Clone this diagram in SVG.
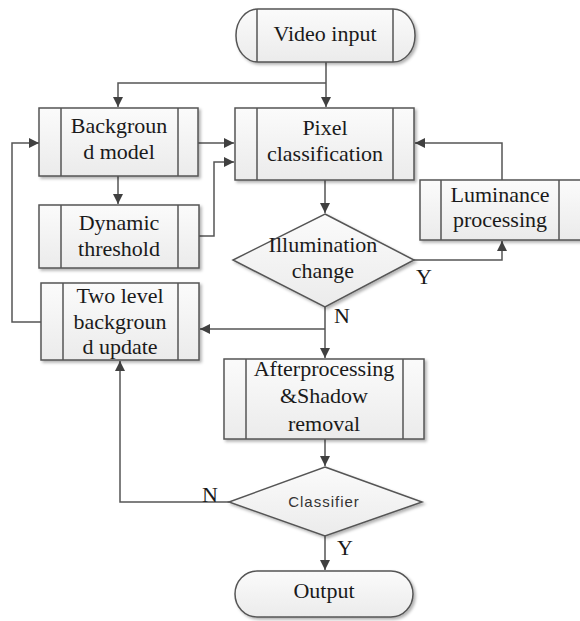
<svg xmlns="http://www.w3.org/2000/svg" width="580" height="621" viewBox="0 0 580 621">
  <defs>
    <linearGradient id="boxFill" x1="0" y1="0" x2="0" y2="1">
      <stop offset="0" stop-color="#fbfbfb"/>
      <stop offset="1" stop-color="#ebebeb"/>
    </linearGradient>
    <filter id="shadow" x="-10%" y="-10%" width="125%" height="130%">
      <feDropShadow dx="2" dy="2" stdDeviation="1.5" flood-color="#000" flood-opacity="0.3"/>
    </filter>
    <marker id="arrow" markerUnits="userSpaceOnUse" markerWidth="11" markerHeight="11" refX="10" refY="5" orient="auto">
      <path d="M0,0 L10,5 L0,10 z" fill="#404040"/>
    </marker>
  </defs>
  <style>
    .shape { fill: url(#boxFill); stroke: #555; stroke-width: 1.5; filter: url(#shadow); }
    .inner { stroke: #555; stroke-width: 1.5; fill: none; }
    .label { font-family: "Liberation Serif", "Times New Roman", serif; font-size: 22px; fill: #1a1a1a; text-anchor: middle; }
    .small { font-family: "Liberation Sans", Arial, sans-serif; font-size: 15px; letter-spacing: 1px; fill: #333; text-anchor: middle; }
    .yn { font-family: "Liberation Serif", "Times New Roman", serif; font-size: 22px; fill: #1a1a1a; }
    .conn { fill: none; stroke: #555; stroke-width: 1.5; }
  </style>

  <!-- connectors -->
  <g id="connectors">
    <path class="conn" d="M326,62 V107" marker-end="url(#arrow)"/>
    <path class="conn" d="M326,83 H118 V107" marker-end="url(#arrow)"/>
    <path class="conn" d="M198,143 H234" marker-end="url(#arrow)"/>
    <path class="conn" d="M118,176 V204" marker-end="url(#arrow)"/>
    <path class="conn" d="M199,236 H214 V162 H234" marker-end="url(#arrow)"/>
    <path class="conn" d="M325,180 V213" marker-end="url(#arrow)"/>
    <path class="conn" d="M414,260 H502 V241" marker-end="url(#arrow)"/>
    <path class="conn" d="M502,180 V143 H415" marker-end="url(#arrow)"/>
    <path class="conn" d="M325,307 V358" marker-end="url(#arrow)"/>
    <path class="conn" d="M325,329 H200" marker-end="url(#arrow)"/>
    <path class="conn" d="M41,322 H12 V143 H39" marker-end="url(#arrow)"/>
    <path class="conn" d="M325,439 V466" marker-end="url(#arrow)"/>
    <path class="conn" d="M229,502 H120 V361" marker-end="url(#arrow)"/>
    <path class="conn" d="M325,536 V570" marker-end="url(#arrow)"/>
    <text class="yn" x="416" y="284">Y</text>
    <text class="yn" x="334" y="323">N</text>
    <text class="yn" x="202" y="502">N</text>
    <text class="yn" x="337" y="555">Y</text>
  </g>

  <!-- start terminator -->
  <g id="video-input">
    <rect class="shape" x="236" y="9" width="179" height="53" rx="22" ry="26"/>
    <path class="inner" d="M257,9 V62 M393,9 V62"/>
    <text class="label" x="325" y="41">Video input</text>
  </g>

  <g id="background-model">
    <rect class="shape" x="39" y="108" width="159" height="68"/>
    <path class="inner" d="M61,108 V176 M178,108 V176"/>
    <text class="label" x="119" y="133">Backgroun</text>
    <text class="label" x="119" y="159">d model</text>
  </g>

  <g id="pixel-classification">
    <rect class="shape" x="235" y="108" width="179" height="72"/>
    <path class="inner" d="M257,108 V180 M393,108 V180"/>
    <text class="label" x="325" y="135">Pixel</text>
    <text class="label" x="325" y="161">classification</text>
  </g>

  <g id="dynamic-threshold">
    <rect class="shape" x="39" y="205" width="160" height="63"/>
    <path class="inner" d="M61,205 V268 M178,205 V268"/>
    <text class="label" x="119" y="230">Dynamic</text>
    <text class="label" x="119" y="256">threshold</text>
  </g>

  <g id="luminance-processing">
    <rect class="shape" x="420" y="180" width="162" height="60"/>
    <path class="inner" d="M441,180 V240 M559,180 V240"/>
    <text class="label" x="500" y="202">Luminance</text>
    <text class="label" x="500" y="227">processing</text>
  </g>

  <g id="illumination-change">
    <polygon class="shape" points="325,214 414,260 325,307 233,260"/>
    <text class="label" x="323" y="252">Illumination</text>
    <text class="label" x="323" y="278">change</text>
  </g>

  <g id="two-level-update">
    <rect class="shape" x="41" y="283" width="158" height="77"/>
    <path class="inner" d="M63,283 V360 M178,283 V360"/>
    <text class="label" x="120" y="303">Two level</text>
    <text class="label" x="120" y="329">backgroun</text>
    <text class="label" x="120" y="354">d update</text>
  </g>

  <g id="afterprocessing">
    <rect class="shape" x="224" y="359" width="200" height="80"/>
    <path class="inner" d="M246,359 V439 M403,359 V439"/>
    <text class="label" x="324" y="376">Afterprocessing</text>
    <text class="label" x="324" y="403">&amp;Shadow</text>
    <text class="label" x="324" y="431">removal</text>
  </g>

  <g id="classifier">
    <polygon class="shape" points="325,467 422,502 325,536 229,502"/>
    <text class="small" x="324" y="507">Classifier</text>
  </g>

  <!-- end terminator -->
  <g id="output">
    <rect class="shape" x="235" y="571" width="178" height="46" rx="22" ry="23"/>
    <text class="label" x="324" y="598">Output</text>
  </g>
</svg>
